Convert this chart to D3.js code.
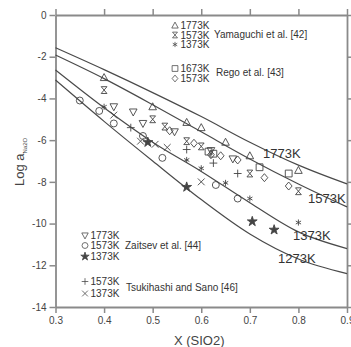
<!DOCTYPE html>
<html><head><meta charset="utf-8">
<script src="https://cdn.jsdelivr.net/npm/d3@7"></script>
<style>body{margin:0;background:#fff}svg{display:block}</style>
</head><body>
<svg id="c" width="351" height="347"></svg>
<script>
// ---- data ----
const xTicks = [0.3,0.4,0.5,0.6,0.7,0.8,0.9];
const xTickLabels = ["0.3","0.4","0.5","0.6","0.7","0.8","0.9"];
const yTicks = [0,-2,-4,-6,-8,-10,-12,-14];
const yTickLabels = ["0","-2","-4","-6","-8","-10","-12","-14"];

const curveLabels = ["1773K","1573K","1373K","1273K"];
const curve1773 = [[0.3,-1.57],[0.4,-2.62],[0.5,-3.72],[0.6,-4.87],[0.7,-6.1],[0.8,-7.2],[0.9,-8.1]];
const curve1573 = [[0.3,-1.92],[0.4,-3.05],[0.5,-4.3],[0.6,-5.6],[0.7,-6.9],[0.8,-8.1],[0.9,-9.2]];
const curve1373 = [[0.3,-2.64],[0.4,-4.45],[0.5,-6.1],[0.6,-7.5],[0.7,-9.0],[0.8,-10.4],[0.9,-11.2]];
const curve1273 = [[0.3,-3.12],[0.4,-5.1],[0.5,-7.0],[0.6,-8.85],[0.7,-10.5],[0.8,-11.7],[0.9,-12.4]];

const yam1773 = [[0.4,-3.0],[0.5,-4.4],[0.57,-5.15],[0.6,-5.4],[0.65,-6.1],[0.7,-6.75],[0.8,-7.45]];
const yam1573 = [[0.4,-3.6],[0.5,-5.0],[0.525,-5.35],[0.57,-6.05],[0.6,-6.3],[0.7,-7.6],[0.8,-8.45]];
const yam1373 = [[0.4,-4.4],[0.57,-6.95],[0.6,-7.35],[0.65,-8.05],[0.7,-8.8],[0.8,-9.95]];
const rego1673 = [[0.615,-6.55],[0.625,-6.65],[0.72,-7.3],[0.78,-7.6]];
const rego1573 = [[0.535,-5.55],[0.585,-6.15],[0.62,-6.7],[0.64,-6.75],[0.675,-6.95],[0.73,-7.8],[0.78,-8.2]];
const zai1773 = [[0.42,-4.4],[0.46,-4.65],[0.48,-5.2],[0.545,-5.6],[0.62,-6.5],[0.665,-6.9]];
const zai1573 = [[0.35,-4.1],[0.39,-4.6],[0.42,-5.2],[0.48,-5.8],[0.52,-6.85],[0.63,-8.15],[0.675,-8.8]];
const zai1373 = [[0.49,-6.1],[0.57,-8.25],[0.705,-9.9],[0.75,-10.3]];
const tsu1573 = [[0.455,-5.4],[0.57,-6.45],[0.625,-7.1],[0.675,-7.6]];
const tsu1373 = [[0.42,-4.8],[0.475,-6.05],[0.505,-6.2],[0.53,-6.35],[0.6,-8.0]];

// ---- layout ----
const svg = d3.select("#c");
const L = 55.5, R = 347, T = 15, B = 307;
const x = d3.scaleLinear().domain([0.3,0.9]).range([L,R]);
const y = d3.scaleLinear().domain([-14,0]).range([B,T]);
const axisCol = "#8a8a8a";
const font = "'Liberation Sans', Arial, sans-serif";

function styleAxis(g){
  g.selectAll(".domain").attr("stroke",axisCol).attr("stroke-width",1.8);
  g.selectAll(".tick line").attr("stroke",axisCol).attr("stroke-width",1.5);
  g.selectAll(".tick text").attr("fill","#444").style("font-family",font).style("font-size","10px");
}
const fmtX = d => xTickLabels[xTicks.indexOf(d)];
const fmtY = d => yTickLabels[yTicks.indexOf(d)];
svg.append("g").attr("transform",`translate(0,${B})`)
  .call(d3.axisBottom(x).tickValues(xTicks).tickFormat(fmtX).tickSize(6).tickSizeOuter(0).tickPadding(4)).call(styleAxis);
svg.append("g").attr("transform",`translate(0,${T})`)
  .call(d3.axisTop(x).tickValues(xTicks).tickFormat("").tickSize(6).tickSizeOuter(0)).call(styleAxis);
svg.append("g").attr("transform",`translate(${L},0)`)
  .call(d3.axisLeft(y).tickValues(yTicks).tickFormat(fmtY).tickSize(6).tickSizeOuter(0).tickPadding(3)).call(styleAxis);
svg.append("g").attr("transform",`translate(${R},0)`)
  .call(d3.axisRight(y).tickValues(yTicks).tickFormat("").tickSize(6).tickSizeOuter(0)).call(styleAxis);

// axis titles
svg.append("text").attr("x",(L+R)/2-2).attr("y",345).attr("text-anchor","middle")
  .style("font-family",font).style("font-size","13px").attr("fill","#444").text("X (SIO2)");
const yl = svg.append("text").attr("transform","translate(24,186) rotate(-90)")
  .style("font-family",font).style("font-size","13px").attr("fill","#444");
yl.append("tspan").text("Log a");
yl.append("tspan").attr("dy",3).style("font-size","6px").text("Na2O");

// curves
const line = d3.line().x(d=>x(d[0])).y(d=>y(d[1])).curve(d3.curveMonotoneX);
[curve1773,curve1573,curve1373,curve1273].forEach(c=>{
  svg.append("path").attr("d",line(c)).attr("fill","none").attr("stroke","#4a4a4a").attr("stroke-width",1.2);
});
const curveLabelPos = [[263,158],[308,203],[293,240],[278,263]];
curveLabels.forEach((t,i)=>{
  svg.append("text").attr("x",curveLabelPos[i][0]).attr("y",curveLabelPos[i][1])
    .style("font-family",font).style("font-size","13px").attr("fill","#333").text(t);
});

// marker shapes
const S = 3.4;
const shapes = {
  triUp: ()=>`M0,${-S-0.6}L${S+0.4},${S-0.4}L${-S-0.4},${S-0.4}Z`,
  triDown: ()=>`M0,${S+0.6}L${S+0.4},${-S+0.4}L${-S-0.4},${-S+0.4}Z`,
  hour: ()=>`M${-S*0.85},${-S}H${S*0.85}L${-S*0.85},${S}H${S*0.85}Z`,
  aster: ()=>{const r=S*0.9;let p="";for(let k=0;k<3;k++){const a=Math.PI/2+k*Math.PI/3;p+=`M${r*Math.cos(a)},${r*Math.sin(a)}L${-r*Math.cos(a)},${-r*Math.sin(a)}`;}return p;},
  square: ()=>`M${-S},${-S}H${S}V${S}H${-S}Z`,
  diamond: ()=>`M0,${-S-0.6}L${S},0L0,${S+0.6}L${-S},0Z`,
  circle: ()=>d3.symbol(d3.symbolCircle,38)(),
  star: ()=>d3.symbol(d3.symbolStar,30)(),
  plus: ()=>`M${-S-0.5},0H${S+0.5}M0,${-S-0.5}V${S+0.5}`,
  cross: ()=>`M${-S},${-S}L${S},${S}M${S},${-S}L${-S},${S}`
};
function drawMarks(data, shape, filled){
  svg.append("g").selectAll("path").data(data).join("path")
    .attr("transform",d=>`translate(${x(d[0])},${y(d[1])})`)
    .attr("d",shapes[shape]())
    .attr("fill",filled?"#444":"none").attr("stroke","#444").attr("stroke-width",0.9);
}
drawMarks(yam1773,"triUp");
drawMarks(yam1573,"hour");
drawMarks(yam1373,"aster");
drawMarks(rego1673,"square");
drawMarks(rego1573,"diamond");
drawMarks(zai1773,"triDown");
drawMarks(zai1573,"circle");
drawMarks(zai1373,"star",true);
drawMarks(tsu1573,"plus");
drawMarks(tsu1373,"cross");

// legends
function legItem(px,py,shape,filled,label){
  svg.append("path").attr("transform",`translate(${px},${py-3.5}) scale(0.85)`).attr("d",shapes[shape]())
    .attr("fill",filled?"#444":"none").attr("stroke","#444").attr("stroke-width",0.9);
  svg.append("text").attr("x",px+5.5).attr("y",py).style("font-family",font).style("font-size","10px")
    .attr("fill","#333").text(label);
}
function legText(px,py,t){
  svg.append("text").attr("x",px).attr("y",py).style("font-family",font).style("font-size","10px")
    .attr("fill","#333").text(t);
}
legItem(175,29,"triUp",false,"1773K");
legItem(175,38.5,"hour",false,"1573K");
legItem(175,48,"aster",false,"1373K");
legText(214,37.5,"Yamaguchi et al. [42]");
legItem(175,72,"square",false,"1673K");
legItem(175,82,"diamond",false,"1573K");
legText(216,76,"Rego et al. [43]");

legItem(85,239,"triDown",false,"1773K");
legItem(85,249,"circle",false,"1573K");
legItem(85,260,"star",true,"1373K");
legText(125,249,"Zaitsev et al. [44]");
legItem(85,285,"plus",false,"1573K");
legItem(85,297,"cross",false,"1373K");
legText(126,291,"Tsukihashi and Sano [46]");
</script>
</body></html>
